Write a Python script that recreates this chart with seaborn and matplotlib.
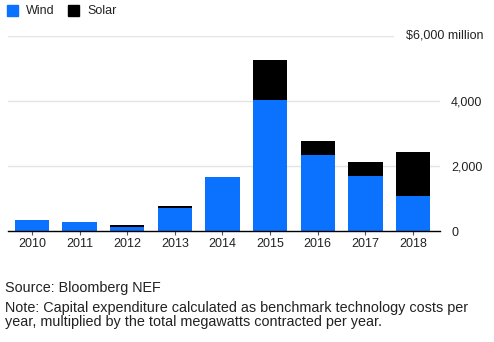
import matplotlib
matplotlib.use("Agg")
import matplotlib.pyplot as plt
import matplotlib.transforms as mtransforms
from matplotlib.patches import Rectangle
import seaborn as sns
import pandas as pd

years = ["2010", "2011", "2012", "2013", "2014", "2015", "2016", "2017", "2018"]
wind = [340, 270, 115, 715, 1660, 4030, 2350, 1690, 1090]
solar = [0, 0, 60, 65, 0, 1230, 420, 430, 1340]
yticks = [0, 2000, 4000, 6000]
ytick_labels = ["0", "2,000", "4,000", ""]
top_label = "$6,000 million"
source = "Source: Bloomberg NEF"
note = ("Note: Capital expenditure calculated as benchmark technology costs per\n"
        "year, multiplied by the total megawatts contracted per year.")

BLUE = "#0a72ff"
SOLAR_C = "#000000"

sns.set_theme(style="white")
plt.rcParams["font.family"] = ["Liberation Sans", "DejaVu Sans"]

df = pd.DataFrame({"year": years, "wind": wind, "solar": solar})
df["total"] = df["wind"] + df["solar"]

W, H = 494, 342
fig = plt.figure(figsize=(W / 100, H / 100), dpi=100)
left, right, bottom, top = 8, 440, 231, 36
ax = fig.add_axes([left / W, 1 - bottom / H, (right - left) / W, (bottom - top) / H])

# gridlines
for y in [2000, 4000]:
    ax.axhline(y, 0, 1, color="#e4e4e4", lw=1, zorder=0)
ax.axhline(6000, 0, (393 - left) / (right - left), color="#e4e4e4", lw=1, zorder=0)

sns.barplot(data=df, x="year", y="total", color=SOLAR_C, width=0.72,
            saturation=1, linewidth=0, ax=ax, zorder=2)
sns.barplot(data=df, x="year", y="wind", color=BLUE, width=0.72,
            saturation=1, linewidth=0, ax=ax, zorder=3)

ax.set_xlim(-0.504, 8.567)
ax.set_ylim(0, 6000)
ax.set_xlabel("")
ax.set_ylabel("")
for s in ["left", "right", "top"]:
    ax.spines[s].set_visible(False)
ax.spines["bottom"].set_color("#000000")
ax.spines["bottom"].set_linewidth(1)
ax.spines["bottom"].set_zorder(5)

ax.yaxis.tick_right()
ax.set_yticks(yticks)
ax.set_yticklabels(ytick_labels)
ax.tick_params(axis="y", length=0, pad=8, labelsize=9, labelcolor="#222222")
ax.tick_params(axis="x", length=3, width=0.8, color="#555555", pad=2,
               labelsize=9, labelcolor="#222222", bottom=True)

trans = mtransforms.blended_transform_factory(fig.transFigure, ax.transData)
ax.text(483 / W, 6000, top_label, transform=trans, ha="right", va="center",
        fontsize=9, color="#222222")

# legend
fig.patches.append(Rectangle((7 / W, 1 - 16 / H), 11 / W, 11 / H,
                             transform=fig.transFigure, color=BLUE))
fig.text(26 / W, 1 - 10.5 / H, "Wind", ha="left", va="center", fontsize=9,
         color="#222222")
fig.patches.append(Rectangle((68 / W, 1 - 16 / H), 11 / W, 11 / H,
                             transform=fig.transFigure, color=SOLAR_C))
fig.text(87 / W, 1 - 10.5 / H, "Solar", ha="left", va="center", fontsize=9,
         color="#222222")

fig.text(5 / W, 1 - 288 / H, source, ha="left", va="center", fontsize=10.4,
         color="#222222")
fig.text(5 / W, 1 - 315 / H, note, ha="left", va="center", fontsize=10.4,
         color="#222222", linespacing=1.0)

fig.savefig("out.png", dpi=100)
